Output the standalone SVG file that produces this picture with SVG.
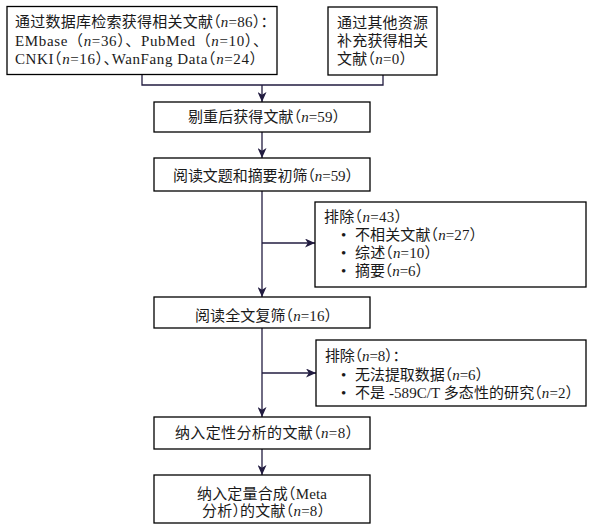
<svg xmlns="http://www.w3.org/2000/svg" width="594" height="530" viewBox="0 0 594 530">
<style>
.box{fill:#fff;stroke:#000;stroke-width:1.3}
.t{font-family:"Liberation Serif","Noto Sans CJK SC",serif;font-size:15px;fill:#1a1a1a;font-feature-settings:"halt"}
.fw{font-feature-settings:normal}
.i{font-style:italic}
.c{fill:none;stroke:#221c40;stroke-width:1.3}
</style>
<defs>
<marker id="ah" markerUnits="userSpaceOnUse" markerWidth="11" markerHeight="9" refX="10" refY="4.5" orient="auto">
<path d="M0,0 L10,4.5 L0,9 L2.8,4.5 Z" fill="#221c40"/>
</marker>
</defs>
<rect width="594" height="530" fill="#fff"/>
<g id="connectors">
<path class="c" d="M142,74 V85 H383 V75"/>
<path class="c" d="M262,85 V102" marker-end="url(#ah)"/>
<path class="c" d="M262,132 V158" marker-end="url(#ah)"/>
<path class="c" d="M262,191 V297" marker-end="url(#ah)"/>
<path class="c" d="M262,243 H315" marker-end="url(#ah)"/>
<path class="c" d="M262,328 V417" marker-end="url(#ah)"/>
<path class="c" d="M262,373 H316" marker-end="url(#ah)"/>
<path class="c" d="M262,449 V475" marker-end="url(#ah)"/>
</g>
<g id="n1">
<rect class="box" x="7" y="6.5" width="270" height="68"/>
<text class="t" x="15" y="27" textLength="253" lengthAdjust="spacing">通过数据库检索获得相关文献（<tspan class="i">n</tspan>=86）：</text>
<text class="t fw" x="15" y="46" textLength="253" lengthAdjust="spacing">EMbase（<tspan class="i">n</tspan>=36）、PubMed（<tspan class="i">n</tspan>=10）、</text>
<text class="t" x="15" y="64" textLength="242" lengthAdjust="spacing">CNKI（<tspan class="i">n</tspan>=16）、WanFang Data（<tspan class="i">n</tspan>=24）</text>
</g>
<g id="n2">
<rect class="box" x="328" y="7" width="109" height="68"/>
<text class="t" x="337" y="28" textLength="91" lengthAdjust="spacing">通过其他资源</text>
<text class="t" x="337" y="46" textLength="91" lengthAdjust="spacing">补充获得相关</text>
<text class="t" x="337" y="64" textLength="70" lengthAdjust="spacing">文献（<tspan class="i">n</tspan>=0）</text>
</g>
<g id="n3">
<rect class="box" x="154" y="102" width="216" height="30"/>
<text class="t" x="188" y="122" textLength="152" lengthAdjust="spacing">剔重后获得文献（<tspan class="i">n</tspan>=59）</text>
</g>
<g id="n4">
<rect class="box" x="154" y="158" width="216" height="33"/>
<text class="t" x="173" y="181" textLength="180" lengthAdjust="spacing">阅读文题和摘要初筛（<tspan class="i">n</tspan>=59）</text>
</g>
<g id="n5">
<rect class="box" x="315" y="202" width="271" height="85"/>
<text class="t" x="324" y="222" textLength="78" lengthAdjust="spacing">排除（<tspan class="i">n</tspan>=43）</text>
<text class="t" x="341" y="240">•</text>
<text class="t" x="355" y="240" textLength="122" lengthAdjust="spacing">不相关文献（<tspan class="i">n</tspan>=27）</text>
<text class="t" x="341" y="258">•</text>
<text class="t" x="355" y="258" textLength="77" lengthAdjust="spacing">综述（<tspan class="i">n</tspan>=10）</text>
<text class="t" x="341" y="276">•</text>
<text class="t" x="355" y="276" textLength="68" lengthAdjust="spacing">摘要（<tspan class="i">n</tspan>=6）</text>
</g>
<g id="n6">
<rect class="box" x="154" y="297" width="216" height="31"/>
<text class="t" x="195" y="321" textLength="137" lengthAdjust="spacing">阅读全文复筛（<tspan class="i">n</tspan>=16）</text>
</g>
<g id="n7">
<rect class="box" x="316" y="340" width="270" height="66"/>
<text class="t" x="325" y="361" textLength="75" lengthAdjust="spacing">排除（<tspan class="i">n</tspan>=8）：</text>
<text class="t" x="341" y="380">•</text>
<text class="t" x="355" y="380" textLength="128" lengthAdjust="spacing">无法提取数据（<tspan class="i">n</tspan>=6）</text>
<text class="t" x="341" y="398">•</text>
<text class="t" x="355" y="398" textLength="218" lengthAdjust="spacing">不是 -589C/T 多态性的研究（<tspan class="i">n</tspan>=2）</text>
</g>
<g id="n8">
<rect class="box" x="154" y="417" width="216" height="32"/>
<text class="t" x="175" y="438" textLength="178" lengthAdjust="spacing">纳入定性分析的文献（<tspan class="i">n</tspan>=8）</text>
</g>
<g id="n9">
<rect class="box" x="154" y="475" width="216" height="48"/>
<text class="t" x="197" y="499" textLength="130" lengthAdjust="spacing">纳入定量合成（Meta</text>
<text class="t" x="202" y="516" textLength="123" lengthAdjust="spacing">分析）的文献（<tspan class="i">n</tspan>=8）</text>
</g>
</svg>
